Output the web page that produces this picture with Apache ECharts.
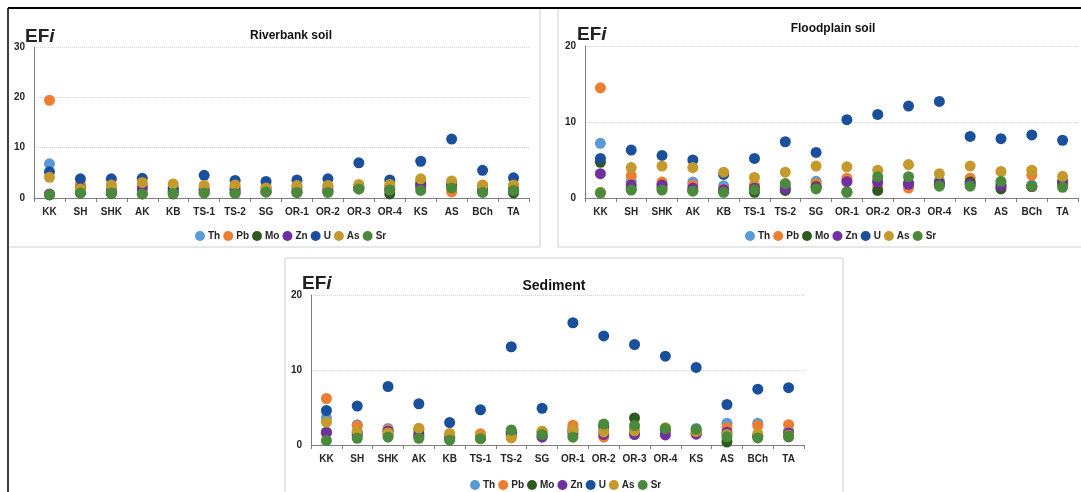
<!DOCTYPE html>
<html>
<head>
<meta charset="utf-8">
<script src="https://cdn.jsdelivr.net/npm/echarts@6/dist/echarts.min.js"></script>
<style>
  html, body { margin: 0; padding: 0; background: #fff; }
  #chart { width: 1081px; height: 492px; }
</style>
</head>
<body>
<div id="chart"></div>
<script>
// Sampling sites along the river (x-axis categories)
const categories = ['KK','SH','SHK','AK','KB','TS-1','TS-2','SG','OR-1','OR-2','OR-3','OR-4','KS','AS','BCh','TA'];
const elements = ['Th','Pb','Mo','Zn','U','As','Sr'];

// Enrichment factors (EFi) — riverbank soil
const riverbankTh = [6.8, 2.2, 2.0, 2.2, 2.0, 1.8, 1.8, 1.8, 2.0, 1.9, 2.2, 2.1, 2.5, 2.5, 2.0, 2.0];
const riverbankPb = [19.4, 2.7, 1.8, 2.6, 1.5, 2.0, 2.2, 2.2, 2.2, 2.3, 2.4, 2.4, 3.2, 1.2, 2.6, 2.4];
const riverbankMo = [0.6, 1.0, 0.9, 0.8, 0.8, 1.0, 1.0, 1.2, 1.1, 1.2, 1.8, 0.8, 2.8, 2.2, 1.3, 1.0];
const riverbankZn = [0.8, 1.9, 1.3, 1.8, 1.3, 1.5, 1.6, 1.3, 1.4, 1.5, 2.0, 1.6, 2.2, 2.8, 1.6, 1.7];
const riverbankU  = [5.2, 3.8, 3.8, 3.9, 1.9, 4.5, 3.5, 3.3, 3.6, 3.8, 7.0, 3.6, 7.3, 11.7, 5.5, 4.0];
const riverbankAs = [4.1, 1.8, 2.6, 3.1, 2.8, 2.5, 2.6, 2.0, 2.5, 2.5, 2.7, 2.7, 3.8, 3.4, 2.4, 2.6];
const riverbankSr = [0.7, 1.0, 1.0, 0.8, 0.9, 1.0, 0.9, 1.2, 1.1, 1.1, 1.8, 1.6, 1.5, 2.0, 1.1, 1.5];

// Enrichment factors (EFi) — floodplain soil
const floodplainTh = [7.2, 2.2, 1.8, 2.1, 1.6, 1.5, 1.6, 2.2, 2.3, 2.3, 2.0, 2.3, 2.0, 1.8, 1.7, 1.8];
const floodplainPb = [14.5, 2.9, 2.1, 1.7, 1.2, 1.7, 1.4, 1.9, 2.6, 1.5, 1.3, 1.7, 2.6, 1.4, 3.0, 1.6];
const floodplainMo = [4.7, 1.2, 1.3, 1.0, 0.8, 0.75, 1.0, 1.5, 0.8, 1.0, 1.9, 2.0, 2.1, 1.2, 1.5, 2.2];
const floodplainZn = [3.2, 1.7, 1.7, 1.3, 1.1, 1.3, 1.2, 1.4, 2.15, 2.1, 1.8, 1.8, 1.8, 1.6, 1.5, 2.0];
const floodplainU  = [5.2, 6.3, 5.6, 5.0, 3.1, 5.2, 7.4, 6.0, 10.3, 11.0, 12.1, 12.7, 8.1, 7.8, 8.3, 7.6];
const floodplainAs = [0.75, 4.0, 4.2, 4.0, 3.4, 2.7, 3.4, 4.2, 4.1, 3.65, 4.4, 3.2, 4.2, 3.5, 3.65, 2.85];
const floodplainSr = [0.65, 1.05, 1.05, 0.9, 0.75, 1.1, 1.9, 1.2, 0.75, 2.8, 2.8, 1.55, 1.55, 2.2, 1.55, 1.4];

// Enrichment factors (EFi) — sediment
const sedimentTh = [3.6, 2.7, 2.2, 2.1, 1.3, 1.3, 1.8, 1.7, 2.2, 2.0, 2.0, 2.1, 2.2, 2.9, 2.9, 1.9];
const sedimentPb = [6.2, 2.55, 2.0, 2.0, 1.4, 1.5, 1.6, 1.8, 2.65, 1.05, 1.6, 1.6, 1.5, 2.35, 2.6, 2.7];
const sedimentMo = [1.7, 1.3, 1.4, 1.5, 0.8, 0.9, 1.7, 1.2, 1.9, 2.5, 3.6, 2.0, 1.7, 0.4, 1.2, 1.1];
const sedimentZn = [1.65, 1.6, 1.85, 1.2, 1.0, 1.0, 1.3, 1.05, 1.5, 1.4, 1.4, 1.35, 1.45, 1.7, 1.2, 1.6];
const sedimentU  = [4.6, 5.2, 7.8, 5.5, 3.0, 4.7, 13.1, 4.9, 16.3, 14.55, 13.4, 11.85, 10.35, 5.4, 7.45, 7.65];
const sedimentAs = [3.05, 1.85, 1.6, 2.25, 1.55, 1.2, 0.95, 1.85, 2.0, 1.75, 1.9, 2.3, 1.8, 1.4, 1.5, 1.3];
const sedimentSr = [0.6, 0.9, 1.05, 0.9, 0.65, 0.85, 2.0, 1.4, 1.05, 2.8, 2.6, 2.2, 2.1, 1.1, 0.95, 1.2];

// Axis ranges per panel
const riverbankYMax = 30;
const floodplainYMax = 20;
const sedimentYMax = 20;
const panelTitles = ['Riverbank soil', 'Floodplain soil', 'Sediment'];

const colors = {
  Th: '#5b9bd5', Pb: '#ed7d31', Mo: '#2f5a1f', Zn: '#7030a0',
  U: '#1a4f9c', As: '#c49a2c', Sr: '#4b8a3a'
};

const panels = [
  { data: [riverbankTh, riverbankPb, riverbankMo, riverbankZn, riverbankU, riverbankAs, riverbankSr], yMax: riverbankYMax,
    grid: { left: 34, top: 47, width: 495, height: 151 }, titleX: 291, titleY: 30, titleSize: 12,
    efX: 25, efY: 27, legendLeft: 190, legendTop: 226 },
  { data: [floodplainTh, floodplainPb, floodplainMo, floodplainZn, floodplainU, floodplainAs, floodplainSr], yMax: floodplainYMax,
    grid: { left: 585, top: 46, width: 493, height: 152 }, titleX: 833, titleY: 23, titleSize: 12,
    efX: 577, efY: 25, legendLeft: 740, legendTop: 226 },
  { data: [sedimentTh, sedimentPb, sedimentMo, sedimentZn, sedimentU, sedimentAs, sedimentSr], yMax: sedimentYMax,
    grid: { left: 311, top: 295, width: 493, height: 150 }, titleX: 554, titleY: 279, titleSize: 14,
    efX: 302, efY: 274, legendLeft: 465, legendTop: 475 }
];

const labelFont = { fontFamily: 'Liberation Sans', fontWeight: 'bold', fontSize: 10, color: '#262626' };

const option = {
  animation: false,
  backgroundColor: '#ffffff',
  grid: panels.map(p => Object.assign({ containLabel: false }, p.grid)),
  xAxis: panels.map((p, i) => ({
    type: 'category', gridIndex: i, data: categories, boundaryGap: true,
    axisLine: { lineStyle: { color: '#7f7f7f', width: 1 } },
    axisTick: { show: true, length: 4, lineStyle: { color: '#7f7f7f' } },
    axisLabel: Object.assign({ margin: 9, interval: 0 }, labelFont),
    splitLine: { show: false }
  })),
  yAxis: panels.map((p, i) => ({
    type: 'value', gridIndex: i, min: 0, max: p.yMax, interval: 10,
    axisLine: { show: true, lineStyle: { color: '#7f7f7f', width: 1 } },
    axisTick: { show: false },
    axisLabel: Object.assign({ margin: 9 }, labelFont),
    splitLine: { lineStyle: { color: '#d4d4d4', type: 'dotted', width: 1 } }
  })),
  title: [].concat(
    panels.map((p, i) => ({
      text: panelTitles[i], left: p.titleX, top: p.titleY, textAlign: 'center', padding: 0,
      textStyle: { fontFamily: 'Liberation Sans', fontWeight: 'bold', fontSize: p.titleSize, color: '#111' }
    })),
    panels.map(p => ({
      text: '{a|EF}{b|i}', left: p.efX, top: p.efY, padding: 0,
      textStyle: {
        rich: {
          a: { fontFamily: 'Liberation Sans', fontSize: 19, color: '#222' },
          b: { fontFamily: 'Liberation Sans', fontSize: 19, fontStyle: 'italic', color: '#222' }
        }
      }
    }))
  ),
  legend: panels.map(p => ({
    data: elements, left: p.legendLeft, top: p.legendTop, orient: 'horizontal',
    icon: 'circle', itemWidth: 10, itemHeight: 10, itemGap: 3,
    textStyle: Object.assign({}, labelFont, { fontSize: 10, padding: [0, 0, 0, -2] })
  })),
  graphic: [
    // outer frame
    { type: 'line', shape: { x1: 8, y1: 8, x2: 1081, y2: 8 }, style: { stroke: '#000', lineWidth: 2 } },
    { type: 'line', shape: { x1: 8, y1: 8, x2: 8, y2: 492 }, style: { stroke: '#000', lineWidth: 1.5 } },
    // riverbank panel frame
    { type: 'polyline', shape: { points: [[9, 247], [540, 247], [540, 9]] }, style: { stroke: '#cfcfcf', lineWidth: 1, fill: null } },
    // floodplain panel frame
    { type: 'polyline', shape: { points: [[558, 9], [558, 247], [1081, 247]] }, style: { stroke: '#cfcfcf', lineWidth: 1, fill: null } },
    // sediment panel frame
    { type: 'rect', shape: { x: 285, y: 258, width: 558, height: 240 }, style: { stroke: '#cfcfcf', lineWidth: 1, fill: null } }
  ],
  series: []
};

panels.forEach((p, pi) => {
  elements.forEach((el, ei) => {
    option.series.push({
      name: el, type: 'scatter', xAxisIndex: pi, yAxisIndex: pi,
      data: p.data[ei], symbol: 'circle', symbolSize: 11,
      itemStyle: { color: colors[el], opacity: 1 },
      emphasis: { disabled: true }
    });
  });
});

const chart = echarts.init(document.getElementById('chart'), null, { renderer: 'canvas' });
chart.setOption(option);
</script>
</body>
</html>
